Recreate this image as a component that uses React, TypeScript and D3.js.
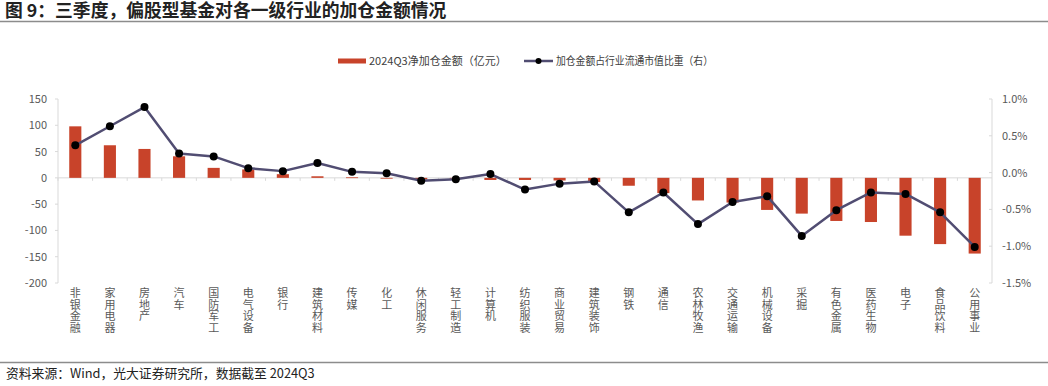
import React, { useEffect } from 'react';
import * as d3 from 'd3';

// 行业（按图中顺序）
const industries = [
  '非银金融', '家用电器', '房地产', '汽车', '国防军工', '电气设备', '银行', '建筑材料', '传媒',
  '化工', '休闲服务', '轻工制造', '计算机', '纺织服装', '商业贸易', '建筑装饰', '钢铁', '通信',
  '农林牧渔', '交通运输', '机械设备', '采掘', '有色金属', '医药生物', '电子', '食品饮料', '公用事业',
];

// 2024Q3 净加仓金额（亿元）
const netAdd = [
  98, 62, 55, 41, 19, 16, 7, 3, 1,
  -1, -3, -1, -4, -4, -5, -8, -15, -29,
  -43, -47, -61, -68, -82, -84, -110, -126, -144,
];

// 加仓金额占行业流通市值比重（%）
const ratio = [
  0.37, 0.63, 0.89, 0.26, 0.22, 0.06, 0.02, 0.13, 0.01,
  -0.01, -0.11, -0.09, -0.02, -0.23, -0.15, -0.12, -0.54, -0.27,
  -0.70, -0.40, -0.32, -0.86, -0.51, -0.27, -0.29, -0.54, -1.01,
];

const leftTicks = [150, 100, 50, 0, -50, -100, -150, -200];
const rightTicks = [1.0, 0.5, 0.0, -0.5, -1.0, -1.5];

const W = 1048;
const H = 386;
const FONT = '"Noto Sans CJK SC", "Noto Sans", sans-serif';
const BAR = '#c8432a';
const LINE = '#514d72';
const AXIS = '#d9d9d9';
const LABEL = '#595959';

const App: React.FC = () => {
  useEffect(() => {
    document.body.style.margin = '0';
  }, []);

  const plot = { left: 58, right: 992, top: 99, bottom: 283 };

  const x = d3.scaleBand<string>()
    .domain(industries)
    .range([plot.left, plot.right])
    .padding(0);
  const step = x.step();
  const barW = step * 0.35;
  const cx = (d: string) => (x(d) as number) + step / 2;

  const yL = d3.scaleLinear().domain([-200, 150]).range([plot.bottom, plot.top]);
  const yR = d3.scaleLinear().domain([-1.5, 1.0]).range([plot.bottom, plot.top]);

  const line = d3.line<number>()
    .x((_, i) => cx(industries[i]))
    .y((v) => yR(v));

  const zeroY = yL(0);

  return (
    <svg width={W} height={H} style={{ display: 'block', fontFamily: FONT }}>
      <rect width={W} height={H} fill="#fff" />

      {/* 标题 */}
      <text x={5} y={16.5} fontSize={17.8} fontWeight="bold" fill="#222">
        图 9：三季度，偏股型基金对各一级行业的加仓金额情况
      </text>
      <line x1={0} x2={W} y1={21.5} y2={21.5} stroke="#8c8c8c" strokeWidth={1.5} />

      {/* 图例 */}
      <rect x={338} y={58.5} width={28} height={5} fill={BAR} />
      <text x={369} y={65} fontSize={11} fill="#404040">2024Q3净加仓金额（亿元）</text>
      <line x1={524} x2={553} y1={61} y2={61} stroke={LINE} strokeWidth={2.5} />
      <circle cx={538.5} cy={61} r={3} fill="#000" />
      <text x={556} y={65} fontSize={11} fill="#404040" textLength={157} lengthAdjust="spacingAndGlyphs">
        加仓金额占行业流通市值比重（右）
      </text>

      {/* 左轴 */}
      <line x1={plot.left} x2={plot.left} y1={plot.top} y2={plot.bottom} stroke={AXIS} />
      {leftTicks.map((t) => (
        <g key={`l${t}`}>
          <line x1={plot.left - 3} x2={plot.left} y1={yL(t)} y2={yL(t)} stroke={AXIS} />
          <text x={plot.left - 11} y={yL(t) + 4} fontSize={11} fill={LABEL} textAnchor="end">{t}</text>
        </g>
      ))}

      {/* 右轴 */}
      <line x1={plot.right} x2={plot.right} y1={plot.top} y2={plot.bottom} stroke={AXIS} />
      {rightTicks.map((t) => (
        <g key={`r${t}`}>
          <line x1={plot.right - 3} x2={plot.right} y1={yR(t)} y2={yR(t)} stroke={AXIS} />
          <text x={plot.right + 10} y={yR(t) + 4} fontSize={11} fill={LABEL}>{`${t.toFixed(1)}%`}</text>
        </g>
      ))}

      {/* 零线与类目刻度 */}
      <line x1={plot.left} x2={plot.right} y1={zeroY} y2={zeroY} stroke={AXIS} />
      {industries.map((d) => (
        <line key={`t${d}`} x1={x(d) as number} x2={x(d) as number} y1={zeroY} y2={zeroY + 3} stroke={AXIS} />
      ))}

      {/* 柱 */}
      {industries.map((d, i) => {
        const v = netAdd[i];
        const y0 = yL(Math.max(0, v));
        const h = Math.abs(yL(v) - yL(0));
        return <rect key={`b${d}`} x={cx(d) - barW / 2} y={y0} width={barW} height={Math.max(h, 0.8)} fill={BAR} />;
      })}

      {/* 折线 */}
      <path d={line(ratio) as string} fill="none" stroke={LINE} strokeWidth={2.5} strokeLinejoin="round" />
      {ratio.map((v, i) => (
        <circle key={`c${i}`} cx={cx(industries[i])} cy={yR(v)} r={4} fill="#000" />
      ))}

      {/* 类目标签（竖排） */}
      {industries.map((d) => (
        <text key={`x${d}`} x={cx(d)} fontSize={11} fill={LABEL} textAnchor="middle">
          {d.split('').map((ch, k) => (
            <tspan key={k} x={cx(d)} y={297 + k * 11.6}>{ch}</tspan>
          ))}
        </text>
      ))}

      {/* 资料来源 */}
      <line x1={0} x2={W} y1={362.5} y2={362.5} stroke="#8c8c8c" strokeWidth={1.5} />
      <text x={6} y={377.5} fontSize={12.8} fill="#222">
        资料来源：Wind，光大证券研究所，数据截至 2024Q3
      </text>
    </svg>
  );
};

export default App;
